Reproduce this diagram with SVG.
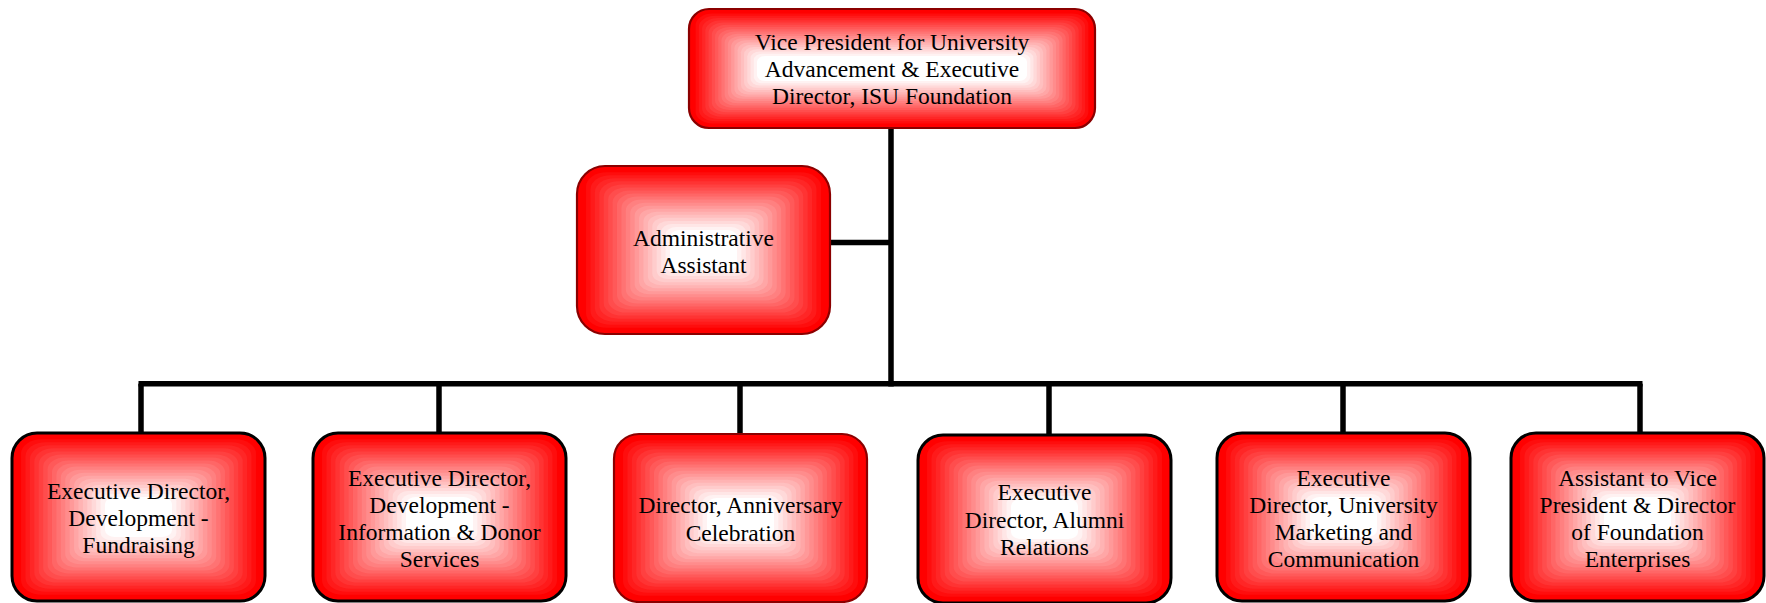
<svg xmlns="http://www.w3.org/2000/svg" xmlns:xlink="http://www.w3.org/1999/xlink" width="1766" height="603" viewBox="0 0 1766 603">
<style>
.box{fill:#FF0000}
.blk{stroke:#000000;stroke-width:3}
.red{stroke:#8B0000;stroke-width:2.2}
.conn{stroke:#000000;stroke-width:5.5;fill:none;stroke-linecap:butt}
.t{font-family:"Liberation Serif","Times New Roman",serif;font-size:23.5px;fill:#000000;text-anchor:middle}
.c1{fill:#FF0D0D}.c2{fill:#FF1A1A}.c3{fill:#FF2626}.c4{fill:#FF3333}.c5{fill:#FF4040}
.c6{fill:#FF4D4D}.c7{fill:#FF5959}.c8{fill:#FF6666}.c9{fill:#FF7373}.c10{fill:#FF8080}
.c11{fill:#FF8C8C}.c12{fill:#FF9999}.c13{fill:#FFA6A6}.c14{fill:#FFB3B3}.c15{fill:#FFBFBF}
.c16{fill:#FFCCCC}.c17{fill:#FFD9D9}.c18{fill:#FFE6E6}.c19{fill:#FFF2F2}.c20{fill:#FFFFFF}
</style>
<defs>
<g id="bandsB">
<rect class="c1" x="9.07" y="6.24" width="234.9" height="155.5" rx="20.8" ry="14.2"/>
<rect class="c2" x="13.49" y="9.28" width="226" height="149.4" rx="20.3" ry="13.8"/>
<rect class="c3" x="17.9" y="12.32" width="217.2" height="143.4" rx="19.7" ry="13.5"/>
<rect class="c4" x="22.32" y="15.36" width="208.4" height="137.3" rx="19.1" ry="13.1"/>
<rect class="c5" x="26.74" y="18.4" width="199.5" height="131.2" rx="18.6" ry="12.7"/>
<rect class="c6" x="31.16" y="21.44" width="190.7" height="125.1" rx="18" ry="12.3"/>
<rect class="c7" x="35.57" y="24.48" width="181.9" height="119" rx="17.4" ry="11.9"/>
<rect class="c8" x="39.99" y="27.52" width="173" height="113" rx="16.8" ry="11.6"/>
<rect class="c9" x="44.41" y="30.56" width="164.2" height="106.9" rx="16.3" ry="11.2"/>
<rect class="c10" x="48.83" y="33.6" width="155.3" height="100.8" rx="15.7" ry="10.8"/>
<rect class="c11" x="53.24" y="36.64" width="146.5" height="94.7" rx="15.1" ry="10.4"/>
<rect class="c12" x="57.66" y="39.68" width="137.7" height="88.6" rx="14.6" ry="10"/>
<rect class="c13" x="62.08" y="42.72" width="128.8" height="82.6" rx="14" ry="9.7"/>
<rect class="c14" x="66.5" y="45.76" width="120" height="76.5" rx="13.4" ry="9.3"/>
<rect class="c15" x="70.91" y="48.8" width="111.2" height="70.4" rx="12.9" ry="8.9"/>
<rect class="c16" x="75.33" y="51.84" width="102.3" height="64.3" rx="12.3" ry="8.5"/>
<rect class="c17" x="79.75" y="54.88" width="93.5" height="58.2" rx="11.7" ry="8.1"/>
<rect class="c18" x="84.17" y="57.92" width="84.7" height="52.2" rx="11.1" ry="7.8"/>
<rect class="c19" x="88.58" y="60.96" width="75.8" height="46.1" rx="10.6" ry="7.4"/>
<rect class="c20" x="93" y="64" width="67" height="40" rx="10" ry="7"/>
</g>
<g id="bandsT">
<rect class="c1" x="6.63" y="4.58" width="392.7" height="109.8" rx="17" ry="11.4"/>
<rect class="c2" x="9.86" y="6.82" width="386.3" height="105.4" rx="16.6" ry="11.1"/>
<rect class="c3" x="13.09" y="9.05" width="379.8" height="100.9" rx="16.1" ry="10.8"/>
<rect class="c4" x="16.32" y="11.28" width="373.4" height="96.4" rx="15.6" ry="10.6"/>
<rect class="c5" x="19.55" y="13.51" width="366.9" height="92" rx="15.1" ry="10.3"/>
<rect class="c6" x="22.78" y="15.75" width="360.4" height="87.5" rx="14.7" ry="10"/>
<rect class="c7" x="26.01" y="17.98" width="354" height="83" rx="14.2" ry="9.7"/>
<rect class="c8" x="29.24" y="20.21" width="347.5" height="78.6" rx="13.7" ry="9.4"/>
<rect class="c9" x="32.47" y="22.44" width="341.1" height="74.1" rx="13.2" ry="9.1"/>
<rect class="c10" x="35.7" y="24.68" width="334.6" height="69.6" rx="12.8" ry="8.9"/>
<rect class="c11" x="38.93" y="26.91" width="328.1" height="65.2" rx="12.3" ry="8.6"/>
<rect class="c12" x="42.16" y="29.14" width="321.7" height="60.7" rx="11.8" ry="8.3"/>
<rect class="c13" x="45.39" y="31.37" width="315.2" height="56.3" rx="11.3" ry="8"/>
<rect class="c14" x="48.62" y="33.61" width="308.8" height="51.8" rx="10.9" ry="7.7"/>
<rect class="c15" x="51.85" y="35.84" width="302.3" height="47.3" rx="10.4" ry="7.4"/>
<rect class="c16" x="55.08" y="38.07" width="295.8" height="42.9" rx="9.9" ry="7.1"/>
<rect class="c17" x="58.31" y="40.3" width="289.4" height="38.4" rx="9.4" ry="6.9"/>
<rect class="c18" x="61.54" y="42.54" width="282.9" height="33.9" rx="9" ry="6.6"/>
<rect class="c19" x="64.77" y="44.77" width="276.5" height="29.5" rx="8.5" ry="6.3"/>
<rect class="c20" x="68" y="47" width="270" height="25" rx="8" ry="6"/>
</g>
</defs>

<g id="connectors">
<line class="conn" x1="891" y1="128" x2="891" y2="386.5"/>
<line class="conn" x1="830" y1="242.5" x2="891" y2="242.5"/>
<line class="conn" x1="138.5" y1="383.7" x2="1642.5" y2="383.7"/>
<line class="conn" x1="141" y1="383.7" x2="141" y2="433"/>
<line class="conn" x1="439" y1="383.7" x2="439" y2="433"/>
<line class="conn" x1="740" y1="383.7" x2="740" y2="433"/>
<line class="conn" x1="1049" y1="383.7" x2="1049" y2="434"/>
<line class="conn" x1="1343" y1="383.7" x2="1343" y2="433"/>
<line class="conn" x1="1640" y1="383.7" x2="1640" y2="433"/>
</g>

<g id="node-vp">
<rect class="box red" x="689" y="9" width="406" height="119" rx="20"/>
<use xlink:href="#bandsT" href="#bandsT" x="689" y="9"/>
<text class="t" x="892" y="50">Vice President for University</text>
<text class="t" x="892" y="77">Advancement &amp; Executive</text>
<text class="t" x="892" y="104">Director, ISU Foundation</text>
</g>

<g id="node-admin">
<rect class="box red" x="577" y="166" width="253" height="168" rx="28"/>
<use xlink:href="#bandsB" href="#bandsB" x="577" y="166"/>
<text class="t" x="703.5" y="246">Administrative</text>
<text class="t" x="703.5" y="272.5">Assistant</text>
</g>

<g id="node-fundraising">
<rect class="box blk" x="12" y="433" width="253" height="168" rx="25"/>
<use xlink:href="#bandsB" href="#bandsB" x="12" y="433"/>
<text class="t" x="138.5" y="499">Executive Director,</text>
<text class="t" x="138.5" y="526">Development -</text>
<text class="t" x="138.5" y="553">Fundraising</text>
</g>

<g id="node-donor">
<rect class="box blk" x="313" y="433" width="253" height="168" rx="25"/>
<use xlink:href="#bandsB" href="#bandsB" x="313" y="433"/>
<text class="t" x="439.5" y="485.5">Executive Director,</text>
<text class="t" x="439.5" y="512.5">Development -</text>
<text class="t" x="439.5" y="539.5">Information &amp; Donor</text>
<text class="t" x="439.5" y="566.5">Services</text>
</g>

<g id="node-anniversary">
<rect class="box red" x="614" y="434" width="253" height="168" rx="25"/>
<use xlink:href="#bandsB" href="#bandsB" x="614" y="434"/>
<text class="t" x="740.5" y="513">Director, Anniversary</text>
<text class="t" x="740.5" y="540.5">Celebration</text>
</g>

<g id="node-alumni">
<rect class="box blk" x="918" y="435" width="253" height="168" rx="25"/>
<use xlink:href="#bandsB" href="#bandsB" x="918" y="435"/>
<text class="t" x="1044.5" y="500">Executive</text>
<text class="t" x="1044.5" y="527.5">Director, Alumni</text>
<text class="t" x="1044.5" y="555">Relations</text>
</g>

<g id="node-marketing">
<rect class="box blk" x="1217" y="433" width="253" height="168" rx="25"/>
<use xlink:href="#bandsB" href="#bandsB" x="1217" y="433"/>
<text class="t" x="1343.5" y="485.5">Executive</text>
<text class="t" x="1343.5" y="512.5">Director, University</text>
<text class="t" x="1343.5" y="539.5">Marketing and</text>
<text class="t" x="1343.5" y="566.5">Communication</text>
</g>

<g id="node-enterprises">
<rect class="box blk" x="1511" y="433" width="253" height="168" rx="25"/>
<use xlink:href="#bandsB" href="#bandsB" x="1511" y="433"/>
<text class="t" x="1637.5" y="485.5">Assistant to Vice</text>
<text class="t" x="1637.5" y="512.5">President &amp; Director</text>
<text class="t" x="1637.5" y="539.5">of Foundation</text>
<text class="t" x="1637.5" y="566.5">Enterprises</text>
</g>
</svg>
